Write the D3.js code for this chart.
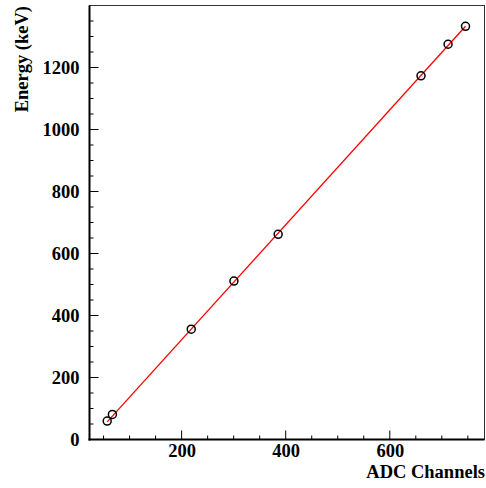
<!DOCTYPE html>
<html>
<head>
<meta charset="utf-8">
<script src="https://cdn.jsdelivr.net/npm/d3@7"></script>
<style>
  body { margin: 0; background: #fff; }
  text { font-family: "Liberation Serif", "DejaVu Serif", serif; font-weight: bold; }
</style>
</head>
<body>
<div id="viz"></div>
<script>
// calibration points
const adcChannels = [57, 67, 218.5, 300.5, 385.5, 660, 712, 745.5];
const energies = [59.5, 81, 356, 511, 662, 1173, 1275, 1333];
// fitted line, drawn between these two ends
const fitAdc = [57, 745.5];
const fitEnergy = [57, 1333];
const xTicks = [200, 400, 600];
const yTicks = [0, 200, 400, 600, 800, 1000, 1200];

function buildChart(containerId) {
    const width = 486;
    const height = 488;

    const margin = {
        top: 5.5,
        bottom: 48.5,
        right: 1.5,
        left: 89.5
    }

    const innerWidth = width - margin.left - margin.right;
    const innerHeight = height - margin.top - margin.bottom;

    const svg = d3.select(containerId)
                    .append('svg')
                    .attr('height', height)
                    .attr('width', width);

    const g = svg.append('g')
                .attr('transform', 'translate(' + margin.left + ',' + margin.top + ')');

    const x = d3.scaleLinear()
                .domain([23, 782])
                .range([0, innerWidth]);

    const y = d3.scaleLinear()
                .domain([0, 1400])
                .range([innerHeight, 0]);

    // frame
    g.append('rect')
     .attr('x', 0)
     .attr('y', 0)
     .attr('width', innerWidth)
     .attr('height', innerHeight)
     .attr('fill', 'none')
     .attr('stroke', '#333')
     .attr('stroke-width', 1);

    // minor ticks
    const xMinor = d3.range(50, 782, 50);
    const yMinor = d3.range(50, 1400, 50);

    const xAxis = d3.axisBottom(x).tickValues(xTicks).tickSize(0).tickPadding(4).tickFormat(d3.format('d'));
    const yAxis = d3.axisLeft(y).tickValues(yTicks).tickSize(0).tickPadding(10).tickFormat(d3.format('d'));

    const xa = g.append('g')
     .attr('class', 'x-axis')
     .attr('transform', 'translate(0,' + innerHeight + ')')
     .call(xAxis);

    const ya = g.append('g')
     .attr('class', 'y-axis')
     .call(yAxis);

    [xa, ya].forEach(a => {
        a.select('.domain').remove();
        a.selectAll('text')
         .attr('fill', '#000')
         .style('font-size', '18.5px')
         .style('font-family', '"Liberation Serif", serif')
         .style('font-weight', 'bold');
    });
    ya.selectAll('text').attr('dy', '0.35em');

    g.selectAll('.x-minor')
     .data(xMinor)
     .enter()
     .append('line')
     .attr('x1', d => x(d))
     .attr('x2', d => x(d))
     .attr('y1', innerHeight)
     .attr('y2', d => innerHeight - (d % 200 === 0 ? 9 : 4))
     .attr('stroke', '#000')
     .attr('stroke-width', 1);

    g.selectAll('.y-minor')
     .data(yMinor)
     .enter()
     .append('line')
     .attr('x1', 0)
     .attr('x2', d => (d % 200 === 0 ? 9 : 4))
     .attr('y1', d => y(d))
     .attr('y2', d => y(d))
     .attr('stroke', '#000')
     .attr('stroke-width', 1);

    // axis lines
    g.append('line')
     .attr('x1', 0).attr('x2', 0)
     .attr('y1', 0).attr('y2', innerHeight + 1)
     .attr('stroke', '#000').attr('stroke-width', 2);

    g.append('line')
     .attr('x1', -1).attr('x2', innerWidth)
     .attr('y1', innerHeight).attr('y2', innerHeight)
     .attr('stroke', '#000').attr('stroke-width', 2);

    // fit line
    const line = d3.line()
                   .x(d => x(d[0]))
                   .y(d => y(d[1]));

    g.append('path')
     .datum(d3.zip(fitAdc, fitEnergy))
     .attr('d', line)
     .attr('fill', 'none')
     .attr('stroke', '#ff0000')
     .attr('stroke-width', 1.3);

    g.selectAll('.pt')
     .data(d3.zip(adcChannels, energies))
     .enter()
     .append('circle')
     .attr('class', 'pt')
     .attr('cx', d => x(d[0]))
     .attr('cy', d => y(d[1]))
     .attr('r', 4)
     .attr('fill', 'none')
     .attr('stroke', '#000')
     .attr('stroke-width', 1.5);

    svg.append('text')
     .attr('x', 485)
     .attr('y', 478)
     .attr('text-anchor', 'end')
     .style('font-size', '18.5px')
     .text('ADC Channels');

    svg.append('text')
     .attr('transform', 'translate(28,6) rotate(-90)')
     .attr('text-anchor', 'end')
     .style('font-size', '18.5px')
     .text('Energy (keV)');
}

buildChart('#viz');
</script>
</body>
</html>
